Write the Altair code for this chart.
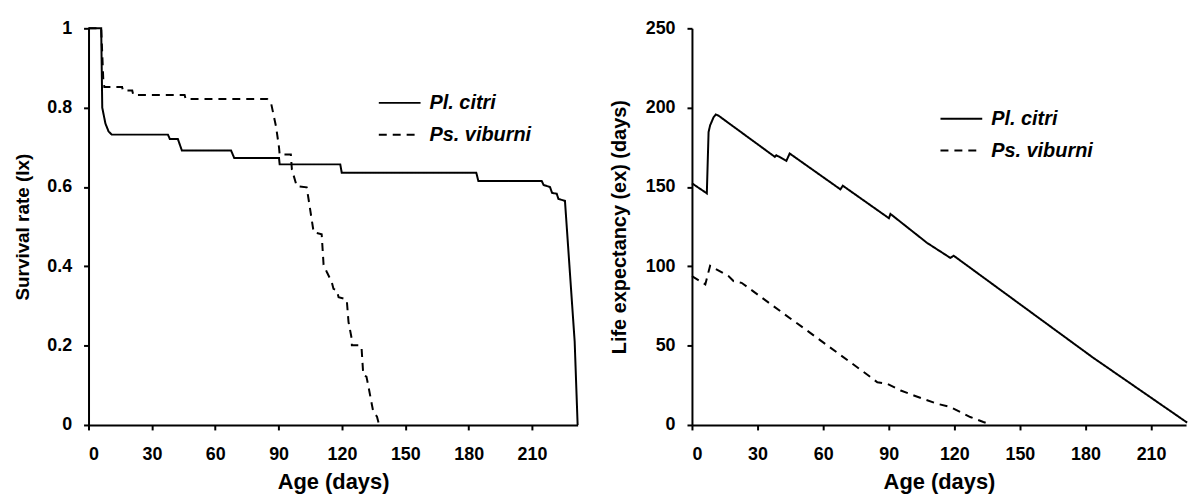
import altair as alt
import pandas as pd

SPECIES = ["Pl. citri", "Ps. viburni"]
X_TICKS = [0, 30, 60, 90, 120, 150, 180, 210]

# Survival rate (lx) - Pl. citri
lx_citri_day = [0, 6, 6.5, 8, 9.5, 11, 37.6, 38.5, 42.3, 44.2, 67.5, 69, 90.2, 90.5,
                119.2, 119.9, 183.6, 184.6, 214.6, 215.5, 218.5, 219.5, 221.7, 222.5,
                225.6, 230.2, 231.6]
lx_citri_val = [1, 1, 0.80, 0.76, 0.74, 0.732, 0.732, 0.721, 0.721, 0.692, 0.692, 0.673,
                0.673, 0.657, 0.657, 0.636, 0.636, 0.615, 0.615, 0.605, 0.600, 0.585,
                0.583, 0.570, 0.565, 0.21, 0]

# Survival rate (lx) - Ps. viburni
lx_vib_day = [0, 6, 7, 7.5, 15.9, 16.3, 20.7, 21.2, 45.5, 46, 84.6, 86.5, 88.8, 90.2,
              90.5, 95.8, 96.3, 98.6, 103.3, 104.2, 106.6, 110.4, 111.3, 112.9, 115.2,
              116.0, 117.6, 118.4, 121.5, 122.3, 123.1, 124.6, 124.7, 128.6, 129.3,
              130.1, 131.6, 132.4, 133.9, 134.8, 136.6, 137.6]
lx_vib_val = [1, 1, 0.87, 0.852, 0.852, 0.843, 0.843, 0.832, 0.832, 0.822, 0.822, 0.81,
              0.752, 0.70, 0.682, 0.682, 0.644, 0.602, 0.599, 0.569, 0.486, 0.481, 0.404,
              0.385, 0.360, 0.343, 0.339, 0.322, 0.318, 0.314, 0.26, 0.218, 0.201, 0.201,
              0.193, 0.126, 0.122, 0.101, 0.059, 0.034, 0.021, 0]

# Life expectancy (ex) - Pl. citri
ex_citri_day = [0, 6.8, 7.6, 8.3, 9.9, 10.9, 12.1, 37.9, 38.6, 43.2, 44.7, 67.9, 69.0,
                90.1, 90.8, 107.6, 118.2, 119.7, 183.3, 226.5]
ex_citri_val = [152.3, 146.0, 184.6, 188.8, 194.0, 195.7, 195.0, 169.0, 170.0, 166.5,
                171.1, 148.5, 150.8, 130.3, 133.0, 114.7, 105.3, 106.7, 42.6, 1.5]

# Life expectancy (ex) - Ps. viburni
ex_vib_day = [0, 6.1, 8.3, 10, 16.7, 19, 22.7, 45.5, 47, 81.8, 84.8, 89.4, 95.5, 101.5,
              112.1, 118.2, 127.3, 133.3, 135.6, 136.5]
ex_vib_val = [93.8, 88.6, 100.4, 99.0, 93.8, 90.7, 89.6, 66.6, 65.2, 30.1, 26.9, 25.9,
              21.7, 18.6, 13.4, 11.3, 5.0, 1.9, 0.8, 0]


def frame(d1, v1, d2, v2):
    rows = []
    for sp, ds, vs in ((SPECIES[0], d1, v1), (SPECIES[1], d2, v2)):
        for i, (d, v) in enumerate(zip(ds, vs)):
            rows.append({"species": sp, "day": d, "val": v, "i": i})
    return pd.DataFrame(rows)


lx_df = frame(lx_citri_day, lx_citri_val, lx_vib_day, lx_vib_val)
ex_df = frame(ex_citri_day, ex_citri_val, ex_vib_day, ex_vib_val)

FONT = "Liberation Sans"
dash_scale = alt.Scale(domain=SPECIES, range=[[1, 0], [8, 6]])


def panel(df, xmax, ymax, yticks, yfmt, ytitle, ytitle_size, ytitle_pad, width, lx, ly, rowpad):
    return alt.Chart(df).mark_line(color="black", strokeWidth=2).encode(
        x=alt.X("day:Q", scale=alt.Scale(domain=[0, xmax], nice=False),
                axis=alt.Axis(values=X_TICKS, title="Age (days)", titleFontSize=22,
                              titlePadding=8, labelPadding=16)),
        y=alt.Y("val:Q", scale=alt.Scale(domain=[0, ymax], nice=False),
                axis=alt.Axis(values=yticks, format=yfmt, title=ytitle,
                              titleFontSize=ytitle_size, labelPadding=12,
                              titlePadding=ytitle_pad)),
        strokeDash=alt.StrokeDash("species:N", scale=dash_scale,
                                  legend=alt.Legend(title=None, orient="none", legendX=lx,
                                                    legendY=ly, rowPadding=rowpad)),
        order=alt.Order("i:Q"),
        detail="species:N",
    ).properties(width=width, height=399)


left = panel(lx_df, 231.6, 1, [0, 0.2, 0.4, 0.6, 0.8, 1], ".1~f", "Survival rate (lx)", 19, 14,
             492, 291, 53, -5)
right = panel(ex_df, 226, 250, [0, 50, 100, 150, 200, 250], "d", "Life expectancy (ex) (days)",
              20, 16, 497, 249, 69, -1)

chart = alt.hconcat(left, right, spacing=27).resolve_legend(
    strokeDash="independent"
).resolve_scale(strokeDash="independent").properties(
    padding={"left": 5, "top": 10, "right": 0, "bottom": 0}
).configure_view(stroke=None).configure_axis(
    grid=False, domainColor="black", domainWidth=2, tickColor="black", tickWidth=2,
    tickSize=5, labelFont=FONT, labelFontWeight="bold", labelFontSize=18,
    labelColor="black", titleFont=FONT, titleFontWeight="bold", titleColor="black",
).configure_legend(
    symbolType="stroke", symbolSize=1764, symbolStrokeWidth=2, symbolStrokeColor="black",
    labelFont=FONT, labelFontStyle="italic", labelFontWeight="bold", labelFontSize=20,
    labelColor="black", labelOffset=8,
)

chart.save("out.html", embed_options={"renderer": "svg", "actions": False})
